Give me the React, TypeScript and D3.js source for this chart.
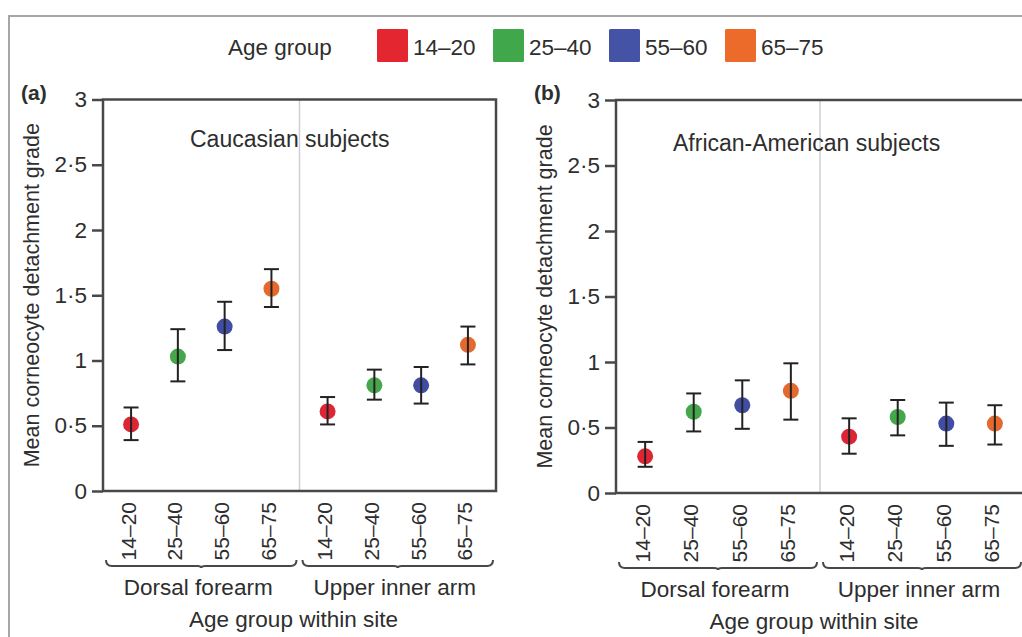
import React, { useEffect, useRef } from "react";
import * as d3 from "d3";

const ageGroups = ["14–20", "25–40", "55–60", "65–75"];
const sites = ["Dorsal forearm", "Upper inner arm"];
const legendTitle = "Age group";
const yTickValues = [0, 0.5, 1, 1.5, 2, 2.5, 3];
const yTickLabels = ["0", "0·5", "1", "1·5", "2", "2·5", "3"];
const dotColors = ["#dc2836", "#44a64c", "#3f4ea2", "#e4692d"];
const legendColors = ["#e3262f", "#40a84a", "#4553a6", "#ec6b2b"];

// order: Dorsal forearm (4 age groups), Upper inner arm (4 age groups)
const caucasianMean = [0.51, 1.03, 1.26, 1.55, 0.61, 0.81, 0.81, 1.12];
const caucasianLower = [0.39, 0.84, 1.08, 1.41, 0.51, 0.7, 0.67, 0.97];
const caucasianUpper = [0.64, 1.24, 1.45, 1.7, 0.72, 0.93, 0.95, 1.26];

const africanMean = [0.28, 0.62, 0.67, 0.78, 0.43, 0.58, 0.53, 0.53];
const africanLower = [0.2, 0.47, 0.49, 0.56, 0.3, 0.44, 0.36, 0.37];
const africanUpper = [0.39, 0.76, 0.86, 0.99, 0.57, 0.71, 0.69, 0.67];

const FONT = "'Liberation Sans', Arial, sans-serif";
const TEXT = "#2e2e2e";
const AXIS = "#484848";

export default function App() {
  const ref = useRef<SVGSVGElement | null>(null);

  useEffect(() => {
    const svg = d3.select(ref.current);
    svg.selectAll("*").remove();

    const defs = svg.append("defs");
    defs
      .append("filter")
      .attr("id", "soft")
      .attr("x", "-50%")
      .attr("y", "-50%")
      .attr("width", "200%")
      .attr("height", "200%")
      .append("feGaussianBlur")
      .attr("stdDeviation", 0.6);

    svg.append("rect").attr("width", 1022).attr("height", 637).attr("fill", "#ffffff");

    // outer frame
    svg
      .append("path")
      .attr("d", "M9,637 L9,16 L1022,16")
      .attr("fill", "none")
      .attr("stroke", "#a6a6a6")
      .attr("stroke-width", 2);

    // legend
    const legend = svg.append("g").attr("font-family", FONT).attr("font-size", 22.5).attr("fill", TEXT);
    legend.append("text").attr("x", 228).attr("y", 55).text(legendTitle);
    const legendX = d3.scaleLinear().domain([0, 1]).range([377, 493]);
    ageGroups.forEach((g, i) => {
      const x = legendX(i);
      legend
        .append("rect")
        .attr("x", x)
        .attr("y", 29)
        .attr("width", 31)
        .attr("height", 33)
        .attr("rx", 1.5)
        .attr("fill", legendColors[i]);
      legend.append("text").attr("x", x + 36).attr("y", 55).text(g);
    });

    const panels = [
      {
        tag: "(a)",
        title: "Caucasian subjects",
        titleX: 190,
        titleY: 147,
        left: 103,
        right: 496,
        top: 99.5,
        bottom: 491,
        mean: caucasianMean,
        lower: caucasianLower,
        upper: caucasianUpper,
      },
      {
        tag: "(b)",
        title: "African-American subjects",
        titleX: 673,
        titleY: 151,
        left: 616,
        right: 1024,
        top: 100,
        bottom: 493,
        mean: africanMean,
        lower: africanLower,
        upper: africanUpper,
      },
    ];

    panels.forEach((p) => {
      const g = svg.append("g");
      const y = d3.scaleLinear().domain([0, 3]).range([p.bottom, p.top]);
      const band = d3.scaleBand().domain(sites).range([p.left, p.right]).padding(0);
      const inner = d3.scalePoint().domain(ageGroups).range([0, band.bandwidth()]).padding(0.6);
      const xPos = (i: number) => (band(sites[Math.floor(i / 4)]) as number) + (inner(ageGroups[i % 4]) as number);

      // divider
      g.append("line")
        .attr("x1", band(sites[1]) as number)
        .attr("x2", band(sites[1]) as number)
        .attr("y1", p.top)
        .attr("y2", p.bottom)
        .attr("stroke", "#cfcfd4")
        .attr("stroke-width", 1.5);

      // y axis
      const yAxis = d3
        .axisLeft(y)
        .tickValues(yTickValues)
        .tickFormat((_, i) => yTickLabels[i])
        .tickSize(11)
        .tickSizeOuter(0)
        .tickPadding(5);
      const ya = g.append("g").attr("transform", `translate(${p.left},0)`).call(yAxis);
      ya.select(".domain").remove();
      ya.selectAll(".tick line").attr("stroke", AXIS).attr("stroke-width", 2.5);
      ya.selectAll(".tick text")
        .attr("font-family", FONT)
        .attr("font-size", 22.5)
        .attr("fill", TEXT);

      // box
      g.append("rect")
        .attr("x", p.left)
        .attr("y", p.top)
        .attr("width", p.right - p.left)
        .attr("height", p.bottom - p.top)
        .attr("fill", "none")
        .attr("stroke", AXIS)
        .attr("stroke-width", 2.5);

      // panel tag
      g.append("text")
        .attr("x", p.left - 82)
        .attr("y", p.top + 0)
        .attr("font-family", FONT)
        .attr("font-size", 21)
        .attr("font-weight", "bold")
        .attr("fill", TEXT)
        .text(p.tag);

      // title
      g.append("text")
        .attr("x", p.titleX)
        .attr("y", p.titleY)
        .attr("font-family", FONT)
        .attr("font-size", 23)
        .attr("fill", TEXT)
        .text(p.title);

      // y axis title
      g.append("text")
        .attr("transform", `translate(${p.left - 64},${(p.top + p.bottom) / 2}) rotate(-90)`)
        .attr("text-anchor", "middle")
        .attr("font-family", FONT)
        .attr("font-size", 21.5)
        .attr("fill", TEXT)
        .text("Mean corneocyte detachment grade");

      // points
      const idx = d3.range(p.mean.length);
      g.selectAll("circle.dot")
        .data(idx)
        .join("circle")
        .attr("class", "dot")
        .attr("cx", (i) => xPos(i))
        .attr("cy", (i) => y(p.mean[i]))
        .attr("r", 8)
        .attr("fill", (i) => dotColors[i % 4])
        .attr("filter", "url(#soft)");

      const eb = g.append("g").attr("stroke", "#222").attr("stroke-width", 2).attr("fill", "none");
      idx.forEach((i) => {
        const x = xPos(i);
        eb.append("line").attr("x1", x).attr("x2", x).attr("y1", y(p.lower[i])).attr("y2", y(p.upper[i]));
        eb.append("line").attr("x1", x - 7.5).attr("x2", x + 7.5).attr("y1", y(p.lower[i])).attr("y2", y(p.lower[i]));
        eb.append("line").attr("x1", x - 7.5).attr("x2", x + 7.5).attr("y1", y(p.upper[i])).attr("y2", y(p.upper[i]));
      });

      // x tick labels (rotated)
      idx.forEach((i) => {
        const x = xPos(i) - 3;
        g.append("text")
          .attr("transform", `translate(${x},${p.bottom + 11}) rotate(-90)`)
          .attr("text-anchor", "end")
          .attr("dy", "0.36em")
          .attr("font-family", FONT)
          .attr("font-size", 21)
          .attr("fill", TEXT)
          .text(ageGroups[i % 4]);
      });

      // braces and site labels
      sites.forEach((s) => {
        const x0 = (band(s) as number) + 3;
        const x1 = (band(s) as number) + band.bandwidth() - 3;
        const by = p.bottom + 75;
        g.append("path")
          .attr(
            "d",
            `M${x0},${by - 6} Q${x0},${by} ${x0 + 6},${by} L${(x0 + x1) / 2 - 4},${by} Q${(x0 + x1) / 2},${by} ${(x0 + x1) / 2},${by + 2} Q${(x0 + x1) / 2},${by} ${(x0 + x1) / 2 + 4},${by} L${x1 - 6},${by} Q${x1},${by} ${x1},${by - 6}`
          )
          .attr("fill", "none")
          .attr("stroke", AXIS)
          .attr("stroke-width", 2);
        g.append("text")
          .attr("x", (x0 + x1) / 2 - 3)
          .attr("y", p.bottom + 104)
          .attr("text-anchor", "middle")
          .attr("font-family", FONT)
          .attr("font-size", 22.5)
          .attr("fill", TEXT)
          .text(s);
      });

      g.append("text")
        .attr("x", (p.left + p.right) / 2 - 6)
        .attr("y", p.bottom + 136)
        .attr("text-anchor", "middle")
        .attr("font-family", FONT)
        .attr("font-size", 22.5)
        .attr("fill", TEXT)
        .text("Age group within site");
    });
  }, []);

  return (
    <div style={{ position: "absolute", left: 0, top: 0 }}>
      <svg ref={ref} width={1022} height={637} style={{ display: "block" }} />
    </div>
  );
}
